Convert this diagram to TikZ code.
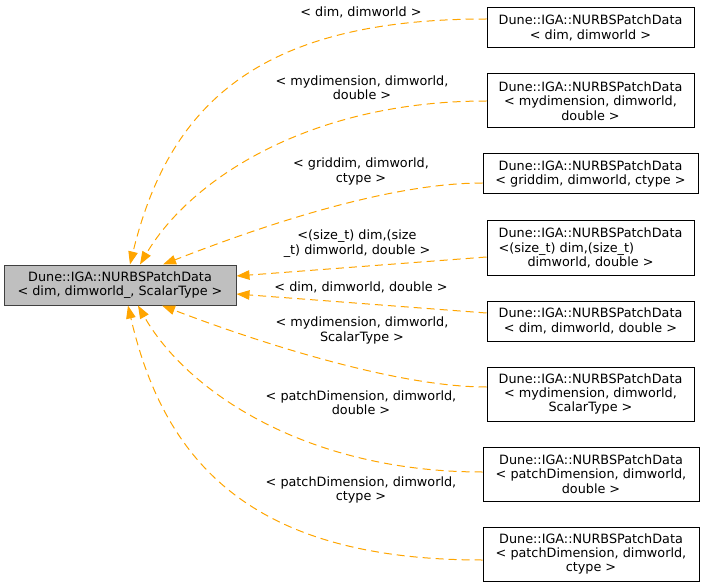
\documentclass[tikz,border=0pt]{standalone}
\usepackage{fontspec}
\setmainfont{DejaVu Sans}
\usetikzlibrary{arrows.meta}

\tikzset{
  cls/.style={draw=black, line width=1pt, fill=white, inner sep=0pt,
    minimum width=207pt, align=center, font=\fontsize{12.8}{14.3}\selectfont},
  current/.style={cls, draw=black!75, fill=black!25, minimum width=232pt, minimum height=40pt},
  lbl/.style={align=center, inner sep=0pt, font=\fontsize{12.8}{14.3}\selectfont},
  inherit/.style={draw={rgb,255:red,255;green,165;blue,0}, line width=1pt,
    dash pattern=on 8pt off 5pt,
    -{Triangle[length=13pt,width=9.5pt,fill={rgb,255:red,255;green,165;blue,0}]}}
}

\begin{document}
\begin{tikzpicture}[x=1pt, y=-1pt]
\useasboundingbox (0,0) rectangle (704,588);
% Base class
\node[current] (base) at (120,285) {Dune::IGA::NURBSPatchData\\< dim, dimworld\_, ScalarType >};
% Derived classes
\node[cls, minimum height=40pt] (b1) at (590.5,28) {Dune::IGA::NURBSPatchData\\< dim, dimworld >};
\node[cls, minimum height=54pt] (b2) at (590.5,101) {Dune::IGA::NURBSPatchData\\< mydimension, dimworld,\\double >};
\node[cls, minimum height=40pt, minimum width=215pt] (b3) at (590.5,174) {Dune::IGA::NURBSPatchData\\< griddim, dimworld, ctype >};
\node[cls, minimum height=54pt] (b4) at (590.5,248) {Dune::IGA::NURBSPatchData\\\rlap{<(size\_t) dim,(size\_t)}\hphantom{Dune::IGA::NURBSPatchData}\\dimworld, double >};
\node[cls, minimum height=40pt] (b5) at (590.5,321) {Dune::IGA::NURBSPatchData\\< dim, dimworld, double >};
\node[cls, minimum height=54pt] (b6) at (590.5,394) {Dune::IGA::NURBSPatchData\\< mydimension, dimworld,\\ScalarType >};
\node[cls, minimum height=54pt, minimum width=216pt] (b7) at (591,474) {Dune::IGA::NURBSPatchData\\< patchDimension, dimworld,\\double >};
\node[cls, minimum height=54pt, minimum width=216pt] (b8) at (591,554) {Dune::IGA::NURBSPatchData\\< patchDimension, dimworld,\\ctype >};
% Template argument labels
\node[lbl] (l1) at (361,12) {< dim, dimworld >};
\node[lbl] (l2) at (362,87.5) {< mydimension, dimworld,\\double >};
\node[lbl] (l3) at (361,171.5) {< griddim, dimworld,\\ctype >};
\node[lbl] (l4) at (357,243.5) {<(size\_t) dim,(size\\\_t) dimworld, double >};
\node[lbl] (l5) at (361,287) {< dim, dimworld, double >};
\node[lbl] (l6) at (362,330.5) {< mydimension, dimworld,\\ScalarType >};
\node[lbl] (l7) at (361,403) {< patchDimension, dimworld,\\double >};
\node[lbl] (l8) at (361,490) {< patchDimension, dimworld,\\ctype >};
% Inheritance edges
\draw[inherit] ([yshift=9pt]b1.west) .. controls +(-222,0) and +(40,-165) .. ([xshift=10pt]base.north);
\draw[inherit] (b2.west) .. controls +(-177,0) and +(50,-85) .. ([xshift=20pt]base.north);
\draw[inherit] ([yshift=-9pt]b3.west) .. controls +(-103,0) and +(77,-30) .. ([xshift=43pt]base.north);
\draw[inherit] ([yshift=-9pt]b4.west) -- ([yshift=9pt]base.east);
\draw[inherit] ([yshift=8pt]b5.west) -- ([yshift=-9pt]base.east);
\draw[inherit] ([yshift=7pt]b6.west) .. controls +(-97,0) and +(78,30) .. ([xshift=42pt]base.south);
\draw[inherit] ([yshift=2pt]b7.west) .. controls +(-177,0) and +(48,85) .. ([xshift=18pt]base.south);
\draw[inherit] ([yshift=-6pt]b8.west) .. controls +(-222,0) and +(38,165) .. ([xshift=8pt]base.south);
\end{tikzpicture}
\end{document}
